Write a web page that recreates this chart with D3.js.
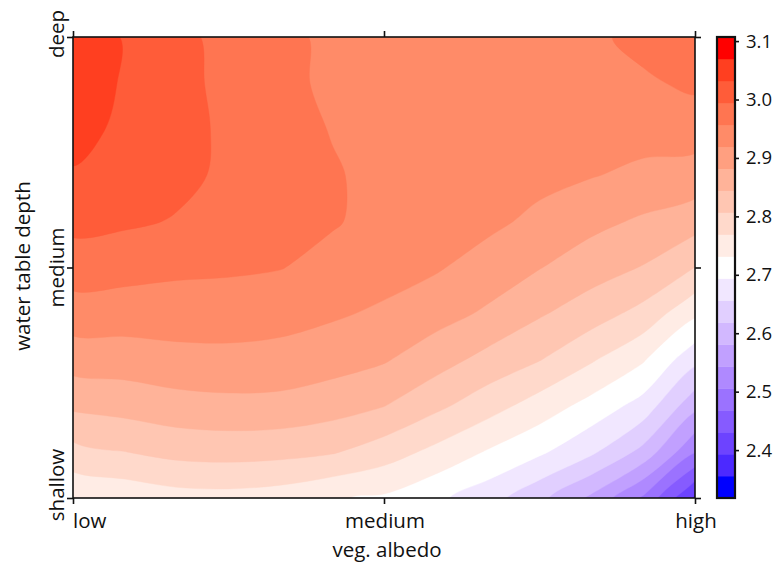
<!DOCTYPE html>
<html><head><meta charset="utf-8">
<script src="https://cdn.jsdelivr.net/npm/d3@7"></script>
<style>
body{margin:0;background:#fff}
svg{display:block}
text{font-family:'Open Sans',sans-serif;fill:#111}
</style>
</head><body>
<svg id="chart" width="779" height="564"></svg>
<script>
// ---------- data ----------
const albedoLabels = ["low", "medium", "high"];          // x axis, left to right
const depthLabels  = ["deep", "medium", "shallow"];       // y axis, top to bottom
const colorbarTicks = [2.4, 2.5, 2.6, 2.7, 2.8, 2.9, 3.0, 3.1];
const colorMin = 2.318, colorMax = 3.107, bandCount = 21;

// value grid: 13 columns (low -> high albedo),
// 11 rows (deep -> shallow water table)
const gridDeep    = [3.049, 3.030, 3.004, 2.983, 2.966, 2.949, 2.944, 2.942, 2.942, 2.942, 2.949, 2.968, 2.987];
const gridRow1    = [3.048, 3.029, 3.005, 2.985, 2.967, 2.949, 2.944, 2.942, 2.940, 2.940, 2.945, 2.951, 2.964];
const gridRow2    = [3.043, 3.025, 3.006, 2.988, 2.971, 2.955, 2.945, 2.942, 2.938, 2.936, 2.936, 2.933, 2.936];
const gridRow3    = [3.029, 3.017, 3.003, 2.988, 2.974, 2.960, 2.947, 2.940, 2.932, 2.930, 2.921, 2.911, 2.904];
const gridRow4    = [3.005, 3.000, 2.992, 2.979, 2.970, 2.960, 2.945, 2.934, 2.928, 2.910, 2.892, 2.876, 2.860];
const gridMedium  = [2.975, 2.970, 2.964, 2.962, 2.958, 2.945, 2.934, 2.923, 2.903, 2.883, 2.861, 2.842, 2.806];
const gridRow6    = [2.939, 2.938, 2.938, 2.937, 2.933, 2.924, 2.913, 2.896, 2.876, 2.848, 2.824, 2.794, 2.738];
const gridRow7    = [2.898, 2.900, 2.907, 2.909, 2.906, 2.897, 2.885, 2.860, 2.832, 2.808, 2.773, 2.735, 2.667];
const gridRow8    = [2.851, 2.858, 2.867, 2.871, 2.870, 2.860, 2.845, 2.815, 2.785, 2.752, 2.718, 2.679, 2.592];
const gridRow9    = [2.794, 2.806, 2.818, 2.821, 2.818, 2.810, 2.787, 2.759, 2.728, 2.700, 2.663, 2.607, 2.508];
const gridShallow = [2.736, 2.743, 2.754, 2.756, 2.750, 2.734, 2.726, 2.701, 2.672, 2.628, 2.573, 2.500, 2.386];
const grid = [gridDeep, gridRow1, gridRow2, gridRow3, gridRow4, gridMedium,
              gridRow6, gridRow7, gridRow8, gridRow9, gridShallow];

// ---------- layout ----------
const plot = {x0: 73, x1: 695, y0: 37, y1: 498};
const cbar = {x0: 717, x1: 735};
const svg = d3.select("#chart");

const nx = grid[0].length, ny = grid.length;
const step = (colorMax - colorMin) / bandCount;
const levels = d3.range(bandCount).map(k => colorMin + k * step);

const blueSide = d3.interpolateLab("#0000ff", "#ffffff");
const redSide  = d3.interpolateLab("#ffffff", "#ff0000");
const bandColor = k => {
  const t = k / (bandCount - 1);
  return t <= 0.5 ? blueSide(t * 2) : redSide((t - 0.5) * 2);
};

// grid -> pixel scales (sample i sits at contour coordinate i+0.5)
const gx = d3.scaleLinear([0.5, nx - 0.5], [plot.x0, plot.x1]);
const gy = d3.scaleLinear([0.5, ny - 0.5], [plot.y0, plot.y1]);
const ringLine = d3.line().curve(d3.curveCatmullRomClosed.alpha(0.5));
const contourPath = geom => geom.coordinates.map(poly =>
  poly.map(ring => ringLine(ring.slice(0, -1).map(([x, y]) => [gx(x), gy(y)]))).join("")
).join("");

svg.append("clipPath").attr("id", "plotclip")
  .append("rect").attr("x", plot.x0).attr("y", plot.y0)
  .attr("width", plot.x1 - plot.x0).attr("height", plot.y1 - plot.y0);

const contourData = d3.contours().size([nx, ny]).thresholds(levels)(grid.flat());

const gC = svg.append("g").attr("clip-path", "url(#plotclip)");
gC.append("rect").attr("x", plot.x0).attr("y", plot.y0)
  .attr("width", plot.x1 - plot.x0).attr("height", plot.y1 - plot.y0)
  .attr("fill", bandColor(0));
gC.selectAll("path.band").data(contourData).join("path")
  .attr("class", "band")
  .attr("d", contourPath)
  .attr("fill-rule", "evenodd")
  .attr("fill", (d, i) => bandColor(i))
  .attr("stroke", (d, i) => bandColor(i))
  .attr("stroke-width", 0.4);

// ---------- axes ----------
const xPt = d3.scalePoint(albedoLabels, [plot.x0, plot.x1]);
const yPt = d3.scalePoint(depthLabels, [plot.y0, plot.y1]);
const tick = 6;
function ticksOnly(axis, tx, ty) {
  const g = svg.append("g").attr("transform", `translate(${tx},${ty})`)
    .call(axis.tickSize(tick).tickSizeOuter(0).tickFormat(() => ""));
  g.select(".domain").remove();
  g.selectAll(".tick line").attr("stroke", "#111").attr("stroke-width", 1.6);
  return g;
}
ticksOnly(d3.axisBottom(xPt), 0, plot.y1);
ticksOnly(d3.axisTop(xPt), 0, plot.y0);
ticksOnly(d3.axisLeft(yPt), plot.x0, 0);
ticksOnly(d3.axisRight(yPt), plot.x1, 0);

svg.append("rect").attr("x", plot.x0).attr("y", plot.y0)
  .attr("width", plot.x1 - plot.x0).attr("height", plot.y1 - plot.y0)
  .attr("fill", "none").attr("stroke", "#111").attr("stroke-width", 1.6);

const fs = 20.5;
// x tick labels
const xLabelPos = {low: {dx: 0, anchor: "start"}, medium: {dx: 1, anchor: "middle"}, high: {dx: 1, anchor: "middle"}};
svg.append("g").selectAll("text").data(albedoLabels).join("text")
  .attr("x", d => xPt(d) + xLabelPos[d].dx)
  .attr("y", 528)
  .attr("text-anchor", d => xLabelPos[d].anchor)
  .attr("font-size", fs)
  .text(d => d);
// y tick labels (rotated)
const yLabelShift = {deep: -3, medium: 0, shallow: -13};
svg.append("g").selectAll("text").data(depthLabels).join("text")
  .attr("transform", d => `translate(64,${yPt(d) + yLabelShift[d]}) rotate(-90)`)
  .attr("text-anchor", "middle")
  .attr("font-size", fs)
  .text(d => d);
// axis titles
svg.append("text").attr("x", 387).attr("y", 557).attr("text-anchor", "middle")
  .attr("font-size", fs).text("veg. albedo");
svg.append("text").attr("transform", `translate(30,266) rotate(-90)`)
  .attr("text-anchor", "middle").attr("font-size", fs).text("water table depth");

// ---------- colorbar ----------
const cb = d3.scaleLinear([colorMin, colorMax], [plot.y1, plot.y0]);
svg.append("g").selectAll("rect").data(levels).join("rect")
  .attr("x", cbar.x0).attr("width", cbar.x1 - cbar.x0)
  .attr("y", d => cb(d + step))
  .attr("height", d => cb(d) - cb(d + step) + 0.3)
  .attr("fill", (d, i) => bandColor(i));
svg.append("rect").attr("x", cbar.x0).attr("y", plot.y0)
  .attr("width", cbar.x1 - cbar.x0).attr("height", plot.y1 - plot.y0)
  .attr("fill", "none").attr("stroke", "#111").attr("stroke-width", 2.2);
const cbAxis = svg.append("g").attr("transform", `translate(${cbar.x1},0)`)
  .call(d3.axisRight(cb).tickValues(colorbarTicks).tickSize(4).tickPadding(7)
        .tickFormat(d3.format(".1f")).tickSizeOuter(0));
cbAxis.select(".domain").remove();
cbAxis.selectAll(".tick line").attr("stroke", "#111").attr("stroke-width", 1.6);
cbAxis.selectAll(".tick text").attr("font-size", 18.5)
  .attr("font-family", "'Open Sans',sans-serif").attr("fill", "#111");
</script>
</body></html>
